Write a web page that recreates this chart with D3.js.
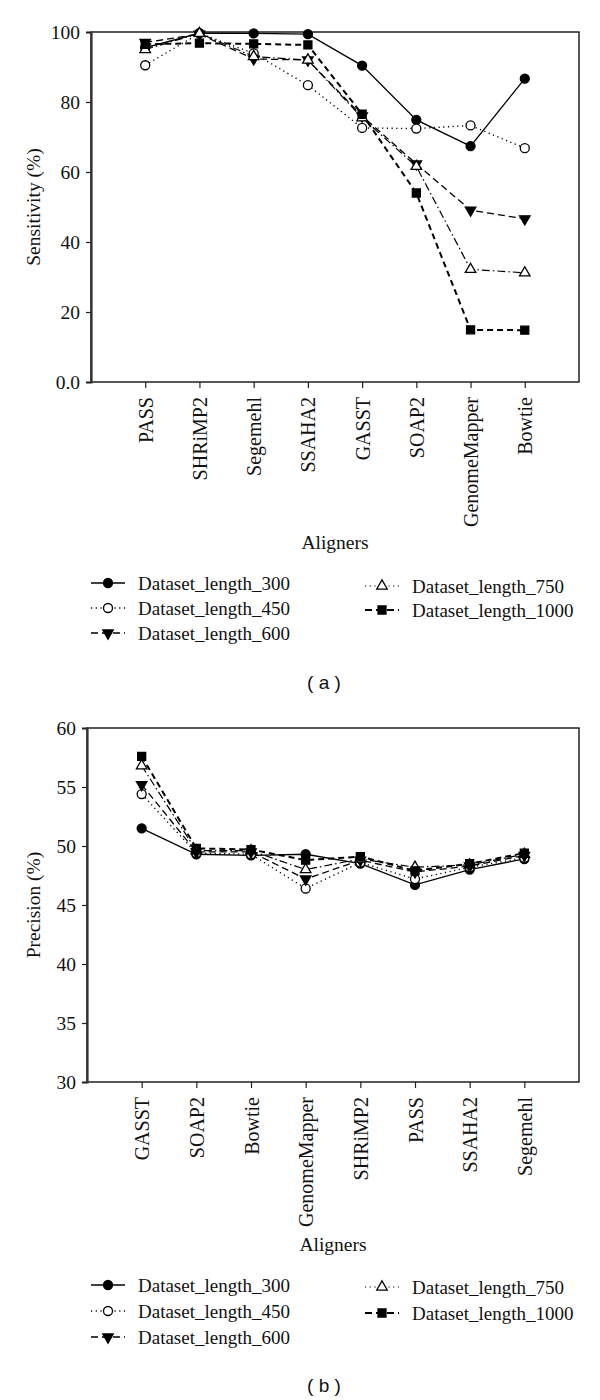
<!DOCTYPE html>
<html><head><meta charset="utf-8">
<script src="https://cdn.jsdelivr.net/npm/d3@7/dist/d3.min.js"></script>
<style>body{margin:0;background:#fff}svg{display:block}</style>
</head><body><svg id="c" width="600" height="1400"></svg>
<script>
// ---- data ----
const seriesNames = ["Dataset_length_300","Dataset_length_450","Dataset_length_600","Dataset_length_750","Dataset_length_1000"];

const sensCategories = ["PASS","SHRiMP2","Segemehl","SSAHA2","GASST","SOAP2","GenomeMapper","Bowtie"];
const sens300  = [95.5, 99.7, 99.6, 99.4, 90.4, 74.9, 67.4, 86.7];
const sens450  = [90.5, 99.6, 93.9, 84.8, 72.6, 72.4, 73.3, 66.8];
const sens600  = [97.0, 99.4, 92.3, 92.0, 76.0, 62.3, 49.1, 46.6];
const sens750  = [95.0, 99.6, 93.0, 92.0, 75.5, 61.6, 32.2, 31.2];
const sens1000 = [96.5, 96.8, 96.6, 96.3, 76.5, 54.0, 14.9, 14.8];
const sensTicks = [0, 20, 40, 60, 80, 100];
const sensTickLabels = ["0.0","20","40","60","80","100"];

const precCategories = ["GASST","SOAP2","Bowtie","GenomeMapper","SHRiMP2","PASS","SSAHA2","Segemehl"];
const prec300  = [51.5, 49.3, 49.2, 49.3, 48.5, 46.7, 48.0, 48.9];
const prec450  = [54.4, 49.4, 49.3, 46.4, 48.6, 47.2, 48.2, 49.0];
const prec600  = [55.2, 49.5, 49.5, 47.2, 48.8, 47.8, 48.3, 49.2];
const prec750  = [56.8, 49.6, 49.6, 48.0, 48.9, 48.2, 48.4, 49.3];
const prec1000 = [57.6, 49.8, 49.7, 48.8, 49.1, 47.9, 48.5, 49.4];
const precTicks = [30, 35, 40, 45, 50, 55, 60];

// ---- styles ----
const styles = [
  {marker:"circle", fill:"#000", dash:null, width:1.3},
  {marker:"circle", fill:"#fff", dash:"1.2,3.5", width:1.4},
  {marker:"tri-down", fill:"#000", dash:"7,4", width:1.3},
  {marker:"tri-up", fill:"#fff", dash:"8,3,1.5,3", width:1.2},
  {marker:"square", fill:"#000", dash:"6,4", width:2}
];
const serif = "'Liberation Serif','Times New Roman',serif";
const svg = d3.select("#c");

function markerPath(type){
  if(type==="circle") return d3.symbol(d3.symbolCircle, 64)();
  if(type==="square") return d3.symbol(d3.symbolSquare, 64)();
  return d3.symbol(d3.symbolTriangle, 48)();
}
function drawMarker(g, type, fill, x, y){
  g.append("path").attr("d", markerPath(type))
   .attr("transform", `translate(${x},${y})` + (type==="tri-down"?" rotate(180)":""))
   .attr("fill", fill).attr("stroke","#000").attr("stroke-width",1.3);
}

function panel(cfg){
  const g = svg.append("g");
  const x = d3.scaleLinear().domain([-1, cfg.cats.length]).range([cfg.left, cfg.right]);
  const y = d3.scaleLinear().domain(cfg.yDomain).range([cfg.bottom, cfg.top]);
  g.append("rect").attr("x",cfg.left).attr("y",cfg.top)
   .attr("width",cfg.right-cfg.left).attr("height",cfg.bottom-cfg.top)
   .attr("fill","none").attr("stroke","#222").attr("stroke-width",1.5);
  const ya = d3.axisLeft(y).tickValues(cfg.yTicks).tickSize(5).tickPadding(6)
    .tickFormat((d,i)=>cfg.yLabels?cfg.yLabels[i]:d);
  const yg = g.append("g").attr("transform",`translate(${cfg.left},0)`).call(ya);
  yg.select(".domain").attr("stroke","#333").attr("stroke-width",2.2);
  yg.selectAll(".tick line").attr("stroke","#222").attr("stroke-width",1.2);
  yg.selectAll("text").attr("font-family",serif).attr("font-size",19.5).attr("fill","#111");
  const xa = d3.axisBottom(x).tickValues(d3.range(cfg.cats.length)).tickSize(6).tickFormat(i=>cfg.cats[i]);
  const xg = g.append("g").attr("transform",`translate(0,${cfg.bottom})`).call(xa);
  xg.select(".domain").remove();
  xg.selectAll(".tick line").attr("stroke","#222").attr("stroke-width",1.2);
  xg.selectAll("text").attr("font-family",serif).attr("font-size",20).attr("fill","#111")
    .attr("transform","rotate(-90)").attr("text-anchor","end")
    .attr("x",-15).attr("y",0).attr("dy","0.35em");
  g.append("text").attr("transform",`translate(40,${(cfg.top+cfg.bottom)/2}) rotate(-90)`)
   .attr("text-anchor","middle").attr("font-family",serif).attr("font-size",19.5).attr("fill","#111")
   .text(cfg.yTitle);
  g.append("text").attr("x",(cfg.left+cfg.right)/2).attr("y",cfg.xTitleY)
   .attr("text-anchor","middle").attr("font-family",serif).attr("font-size",19.5).attr("fill","#111")
   .text("Aligners");
  const line = d3.line().x((d,i)=>x(i)).y(d=>y(d));
  cfg.series.forEach((vals,k)=>{
    const s = styles[k];
    g.append("path").attr("d",line(vals)).attr("fill","none").attr("stroke","#000")
     .attr("stroke-width",s.width).attr("stroke-dasharray",s.dash);
  });
  cfg.series.forEach((vals,k)=>{
    const s = styles[k];
    vals.forEach((v,i)=>drawMarker(g, s.marker, s.fill, x(i), y(v)));
  });
  const pos = [
    [91, cfg.legY[0]], [91, cfg.legY[1]], [91, cfg.legY[2]],
    [365, cfg.legY[3]], [365, cfg.legY[4]]
  ];
  seriesNames.forEach((name,k)=>{
    const s = styles[k];
    const [lx,ly] = pos[k];
    g.append("line").attr("x1",lx).attr("x2",lx+34).attr("y1",ly).attr("y2",ly)
     .attr("stroke","#000").attr("stroke-width",s.width)
     .attr("stroke-dasharray", k===0?null:(k===1||k===3?"1.2,3.5":"7,4"));
    drawMarker(g, s.marker, s.fill, lx+17, ly);
    g.append("text").attr("x",lx+47).attr("y",ly).attr("dy","0.35em")
     .attr("font-family",serif).attr("font-size",19).attr("fill","#111").text(name);
  });
  g.append("text").attr("x",324).attr("y",cfg.capY).attr("dy","0.35em").attr("text-anchor","middle")
   .attr("font-family","'Liberation Sans',Arial,sans-serif").attr("font-size",19).attr("fill","#111")
   .text(cfg.caption);
}

panel({cats:sensCategories, series:[sens300,sens450,sens600,sens750,sens1000],
  left:91, right:579, top:32, bottom:382, yDomain:[0,100], yTicks:sensTicks, yLabels:sensTickLabels,
  yTitle:"Sensitivity (%)", xTitleY:549, legY:[583,608,633,586,610], capY:682, caption:"( a )"});

panel({cats:precCategories, series:[prec300,prec450,prec600,prec750,prec1000],
  left:87, right:579, top:728, bottom:1082, yDomain:[30,60], yTicks:precTicks, yLabels:null,
  yTitle:"Precision (%)", xTitleY:1251, legY:[1285,1311,1337,1287,1313], capY:1385, caption:"( b )"});
</script></body></html>
